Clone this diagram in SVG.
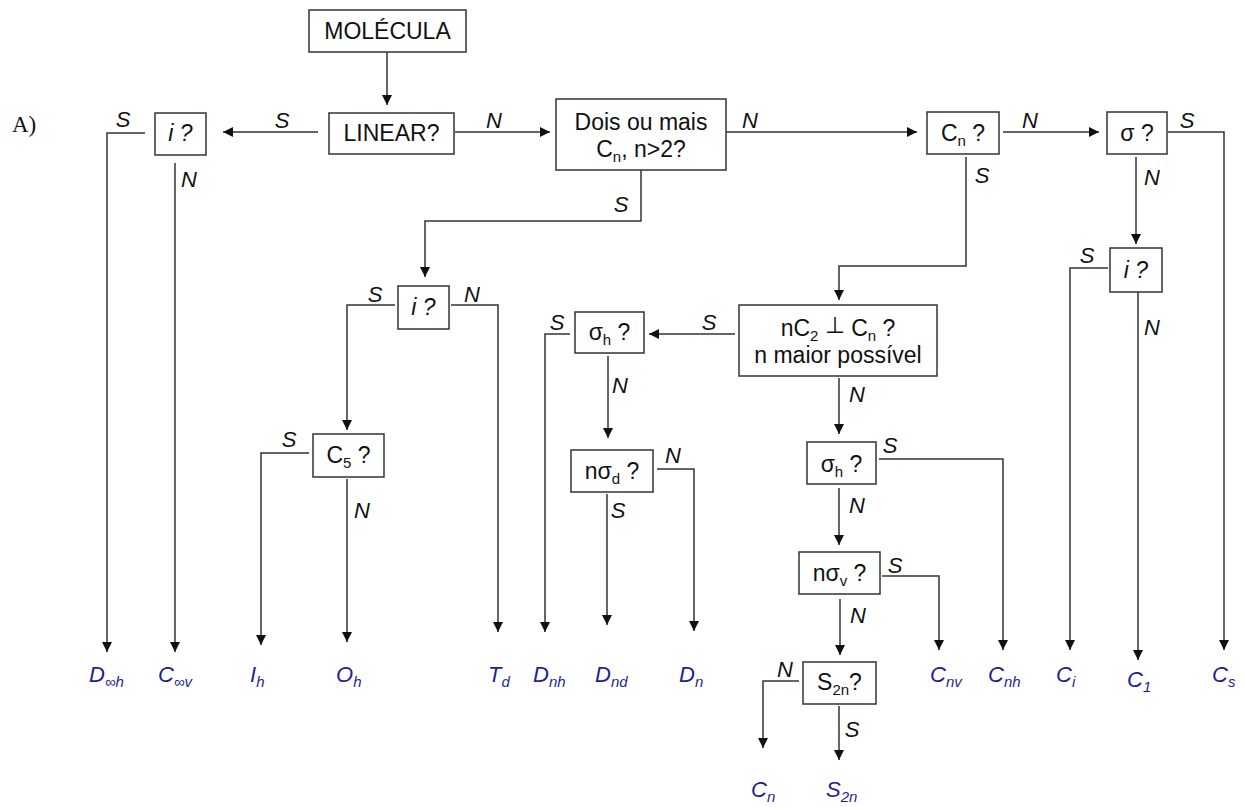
<svg xmlns="http://www.w3.org/2000/svg" width="1245" height="807" viewBox="0 0 1245 807">
<style>
.box{fill:#fff;stroke:#333;stroke-width:1.5}
.t{font-family:"Liberation Sans",Arial,sans-serif;font-size:23px;fill:#111;text-anchor:middle}
.lbl{font-family:"Liberation Sans",Arial,sans-serif;font-size:22px;font-style:italic;fill:#111;text-anchor:middle}
.res{font-family:"Liberation Sans",Arial,sans-serif;font-size:22px;font-style:italic;fill:#1f1f8f}
.c{fill:none;stroke:#333;stroke-width:1.5;marker-end:url(#ah)}
.sub{font-size:15px}
</style>
<defs>
<marker id="ah" viewBox="0 0 10 10" refX="10" refY="5" markerWidth="11" markerHeight="10" markerUnits="userSpaceOnUse" orient="auto">
<path d="M0,0 L10,5 L0,10 z" fill="#111"/>
</marker>
</defs>
<rect width="1245" height="807" fill="#fff"/>
<text x="12" y="132" font-family="Liberation Serif, serif" font-size="23" fill="#111">A)</text>

<g id="connectors">
<path class="c" d="M387,52 V105"/>
<path class="c" d="M318,132 H223"/>
<path class="c" d="M455,132 H550"/>
<path class="c" d="M726,132 H917"/>
<path class="c" d="M1003,132 H1099"/>
<path class="c" d="M1168,132 H1224 V650"/>
<path class="c" d="M1136,157 V244"/>
<path class="c" d="M1108,268 H1070 V650"/>
<path class="c" d="M1138,292 V660"/>
<path class="c" d="M145,133 H107 V652"/>
<path class="c" d="M175,163 V652"/>
<path class="c" d="M966,157 V266 H839 V300"/>
<path class="c" d="M641,170 V221 H425 V277"/>
<path class="c" d="M395,305 H347 V430"/>
<path class="c" d="M451,305 H498 V632"/>
<path class="c" d="M309,453 H261 V645"/>
<path class="c" d="M347,479 V642"/>
<path class="c" d="M735,334 H649"/>
<path class="c" d="M570,334 H545 V632"/>
<path class="c" d="M608,356 V438"/>
<path class="c" d="M657,469 H694 V631"/>
<path class="c" d="M607,494 V625"/>
<path class="c" d="M839,378 V434"/>
<path class="c" d="M879,459 H1003 V650"/>
<path class="c" d="M839,488 V545"/>
<path class="c" d="M882,576 H939 V650"/>
<path class="c" d="M840,599 V655"/>
<path class="c" d="M799,681 H763 V748"/>
<path class="c" d="M839,706 V760"/>
</g>

<g id="edge-labels">
<text class="lbl" x="282" y="128">S</text>
<text class="lbl" x="494" y="128">N</text>
<text class="lbl" x="750" y="128">N</text>
<text class="lbl" x="1030" y="128">N</text>
<text class="lbl" x="1187" y="128">S</text>
<text class="lbl" x="1152" y="185">N</text>
<text class="lbl" x="982" y="183">S</text>
<text class="lbl" x="123" y="127">S</text>
<text class="lbl" x="189" y="187">N</text>
<text class="lbl" x="621" y="212">S</text>
<text class="lbl" x="375" y="302">S</text>
<text class="lbl" x="472" y="302">N</text>
<text class="lbl" x="289" y="447">S</text>
<text class="lbl" x="362" y="518">N</text>
<text class="lbl" x="709" y="330">S</text>
<text class="lbl" x="557" y="330">S</text>
<text class="lbl" x="620" y="393">N</text>
<text class="lbl" x="673" y="463">N</text>
<text class="lbl" x="618" y="518">S</text>
<text class="lbl" x="857" y="402">N</text>
<text class="lbl" x="890" y="453">S</text>
<text class="lbl" x="857" y="513">N</text>
<text class="lbl" x="895" y="573">S</text>
<text class="lbl" x="858" y="623">N</text>
<text class="lbl" x="1087" y="263">S</text>
<text class="lbl" x="1152" y="335">N</text>
<text class="lbl" x="785" y="677">N</text>
<text class="lbl" x="852" y="737">S</text>
</g>

<g id="n-molecula"><rect class="box" x="309" y="10" width="157" height="42"/><text class="t" x="387.5" y="39">MOLÉCULA</text></g>
<g id="n-linear"><rect class="box" x="329" y="113" width="125" height="41"/><text class="t" x="391.5" y="141">LINEAR?</text></g>
<g id="n-i1"><rect class="box" x="155" y="113" width="51" height="42"/><text class="t" x="180.5" y="141" font-style="italic">i ?</text></g>
<g id="n-dois"><rect class="box" x="556" y="99" width="170" height="71"/><text class="t" x="641" y="130">Dois ou mais</text><text class="t" x="641" y="157">C<tspan class="sub" dy="5">n</tspan><tspan dy="-5">, n&gt;2?</tspan></text></g>
<g id="n-cn"><rect class="box" x="927" y="112" width="72" height="42"/><text class="t" x="963" y="141">C<tspan class="sub" dy="5">n</tspan><tspan dy="-5"> ?</tspan></text></g>
<g id="n-sigma"><rect class="box" x="1107" y="112" width="60" height="42"/><text class="t" x="1137" y="141">σ ?</text></g>
<g id="n-i2"><rect class="box" x="1110" y="248" width="52" height="44"/><text class="t" x="1136" y="278" font-style="italic">i ?</text></g>
<g id="n-i3"><rect class="box" x="398" y="286" width="51" height="43"/><text class="t" x="423.5" y="315" font-style="italic">i ?</text></g>
<g id="n-c5"><rect class="box" x="313" y="434" width="71" height="43"/><text class="t" x="348.5" y="463">C<tspan class="sub" dy="5">5</tspan><tspan dy="-5"> ?</tspan></text></g>
<g id="n-sh1"><rect class="box" x="575" y="312" width="69" height="41"/><text class="t" x="609.5" y="340">σ<tspan class="sub" dy="5">h</tspan><tspan dy="-5"> ?</tspan></text></g>
<g id="n-nc2"><rect class="box" x="739" y="305" width="198" height="71"/><text class="t" x="838" y="336">nC<tspan class="sub" dy="5">2</tspan><tspan dy="-8"> ⊥ </tspan><tspan dy="3">C</tspan><tspan class="sub" dy="5">n</tspan><tspan dy="-5"> ?</tspan></text><text class="t" x="838" y="363">n maior possível</text></g>
<g id="n-nsd"><rect class="box" x="571" y="450" width="82" height="42"/><text class="t" x="612" y="479">nσ<tspan class="sub" dy="5">d</tspan><tspan dy="-5"> ?</tspan></text></g>
<g id="n-sh2"><rect class="box" x="807" y="442" width="69" height="42"/><text class="t" x="841.5" y="472">σ<tspan class="sub" dy="5">h</tspan><tspan dy="-5"> ?</tspan></text></g>
<g id="n-nsv"><rect class="box" x="799" y="552" width="81" height="42"/><text class="t" x="839.5" y="581">nσ<tspan class="sub" dy="5">v</tspan><tspan dy="-5"> ?</tspan></text></g>
<g id="n-s2n"><rect class="box" x="803" y="662" width="73" height="42"/><text class="t" x="839.5" y="690">S<tspan class="sub" dy="5">2n</tspan><tspan dy="-5">?</tspan></text></g>

<g id="results">
<text class="res" x="89" y="682">D<tspan class="sub" dy="5">∞h</tspan></text>
<text class="res" x="158" y="682">C<tspan class="sub" dy="5">∞v</tspan></text>
<text class="res" x="250" y="682">I<tspan class="sub" dy="5">h</tspan></text>
<text class="res" x="336" y="682">O<tspan class="sub" dy="5">h</tspan></text>
<text class="res" x="488" y="682">T<tspan class="sub" dy="5">d</tspan></text>
<text class="res" x="533" y="682">D<tspan class="sub" dy="5">nh</tspan></text>
<text class="res" x="595" y="682">D<tspan class="sub" dy="5">nd</tspan></text>
<text class="res" x="679" y="682">D<tspan class="sub" dy="5">n</tspan></text>
<text class="res" x="930" y="682">C<tspan class="sub" dy="5">nv</tspan></text>
<text class="res" x="988" y="682">C<tspan class="sub" dy="5">nh</tspan></text>
<text class="res" x="1056" y="682">C<tspan class="sub" dy="5">i</tspan></text>
<text class="res" x="1127" y="687">C<tspan class="sub" dy="5">1</tspan></text>
<text class="res" x="1212" y="682">C<tspan class="sub" dy="5">s</tspan></text>
<text class="res" x="751" y="797">C<tspan class="sub" dy="5">n</tspan></text>
<text class="res" x="826" y="797">S<tspan class="sub" dy="5">2n</tspan></text>
</g>
</svg>
